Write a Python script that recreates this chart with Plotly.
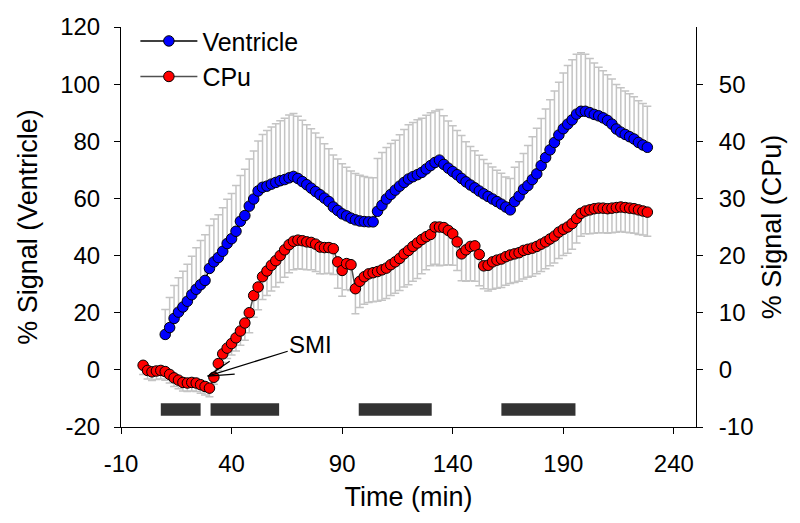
import plotly.graph_objects as go

# ---------------- data ----------------
vent_time = list(range(10, 230, 2))
vent_signal = [
    12.4, 14.8, 18.0, 20.2, 22.0, 24.0, 26.3, 28.2, 29.8, 31.3,
    35.5, 37.8, 39.3, 41.5, 44.2, 45.9, 48.5, 52.0, 54.0, 57.3,
    59.8, 62.6, 63.9, 64.3, 65.0, 65.6, 66.2, 66.6, 67.2, 67.7,
    67.0, 65.9, 64.8, 63.6, 62.4, 61.3, 60.1, 58.9, 57.0, 55.8,
    54.6, 53.9, 53.1, 52.5, 52.1, 51.9, 51.8, 51.8, 55.5, 57.6,
    59.8, 61.4, 62.9, 64.3, 65.6, 66.8, 67.6, 68.3, 69.1, 70.3,
    71.5, 72.6, 73.4, 71.9, 70.6, 69.4, 68.3, 67.0, 65.8, 64.7,
    63.7, 62.6, 61.6, 60.7, 59.8, 58.9, 58.0, 57.0, 56.0, 58.9,
    60.8, 63.2, 64.5, 66.6, 68.6, 71.5, 74.3, 77.0, 79.6, 82.2,
    84.4, 86.0, 87.5, 89.5, 90.5, 90.5, 90.0, 89.4, 88.9, 88.2,
    87.3, 86.0, 84.3, 83.2, 82.4, 81.6, 80.8, 79.6, 78.7, 77.9,
]
vent_err = [
    8.7, 10.5, 11.5, 12.0, 12.5, 13.0, 13.5, 14.5, 15.5, 16.0,
    15.0, 15.0, 15.0, 15.2, 15.5, 15.8, 16.0, 16.0, 16.2, 16.5,
    16.8, 17.5, 18.5, 19.5, 20.0, 20.5, 21.0, 21.5, 22.0, 22.0,
    21.8, 21.5, 21.0, 20.8, 20.5, 20.0, 19.0, 18.5, 18.2, 18.0,
    17.5, 17.0, 16.5, 16.2, 16.0, 15.8, 15.5, 15.4, 18.5, 18.5,
    18.0, 17.8, 17.5, 18.0, 18.5, 19.0, 19.0, 19.2, 19.0, 18.8,
    18.5, 18.0, 17.7, 17.0, 16.5, 16.0, 15.5, 15.0, 14.0, 13.5,
    13.0, 12.5, 12.0, 11.5, 11.2, 11.0, 10.8, 10.5, 11.0, 12.0,
    12.0, 12.5, 14.0, 15.0, 16.0, 16.5, 17.0, 17.5, 18.0, 18.5,
    19.5, 20.5, 21.0, 21.0, 20.5, 20.0, 19.0, 18.0, 17.0, 16.5,
    16.0, 15.8, 15.6, 15.5, 15.2, 15.0, 14.8, 14.6, 14.5, 14.4,
]

cpu_time = list(range(0, 230, 2))
cpu_signal = [
    0.8, -0.1, -0.35, -0.2, -0.1, -0.3, -0.8, -1.4, -1.8, -2.2,
    -2.3, -2.2, -2.3, -2.6, -2.9, -3.2, -1.3, 1.1, 2.8, 3.8,
    4.6, 5.6, 6.8, 8.2, 10.0, 13.0, 14.5, 16.3, 17.3, 18.3,
    19.1, 20.0, 21.0, 21.9, 22.5, 22.7, 22.6, 22.4, 22.3, 22.0,
    21.5, 21.4, 21.4, 21.2, 18.9, 17.4, 18.6, 18.4, 14.2, 15.5,
    16.3, 16.8, 17.0, 17.2, 17.5, 17.8, 18.4, 18.9, 19.5, 20.3,
    20.9, 21.6, 22.2, 22.8, 23.3, 23.7, 25.0, 25.0, 24.9, 24.4,
    23.8, 22.4, 20.3, 21.0, 21.6, 21.7, 20.2, 18.2, 18.3, 18.9,
    19.2, 19.4, 19.8, 20.1, 20.3, 20.5, 20.9, 21.1, 21.3, 21.6,
    22.0, 22.4, 22.9, 23.4, 24.1, 24.6, 25.0, 25.6, 26.5, 27.4,
    27.8, 28.0, 28.2, 28.3, 28.3, 28.2, 28.3, 28.4, 28.5, 28.4,
    28.3, 28.2, 28.0, 27.8, 27.6,
]
cpu_err = [
    1.6, 1.5, 1.5, 1.5, 1.5, 1.5, 1.5, 1.5, 1.5, 1.5,
    1.5, 1.5, 1.5, 1.5, 1.5, 1.5, 1.2, 1.2, 1.5, 1.8,
    2.0, 2.3, 2.5, 3.0, 3.5, 3.8, 4.0, 4.0, 4.3, 4.5,
    4.6, 4.7, 4.8, 4.9, 5.0, 5.0, 5.0, 4.9, 4.8, 4.8,
    4.7, 4.6, 4.5, 4.5, 4.6, 4.5, 4.6, 4.5, 4.4, 4.6,
    4.8, 5.0, 5.1, 5.2, 5.3, 5.3, 5.4, 5.5, 5.6, 5.8,
    6.0, 6.1, 6.2, 6.0, 5.8, 5.5, 6.5, 6.8, 6.6, 6.0,
    5.5, 5.0, 4.7, 5.5, 6.0, 6.2, 5.5, 4.0, 4.5, 4.8,
    4.9, 5.0, 5.0, 5.0, 5.0, 5.0, 5.0, 4.9, 4.9, 4.8,
    4.8, 4.7, 4.7, 4.7, 4.6, 4.6, 4.6, 4.5, 4.3, 4.0,
    4.0, 4.2, 4.3, 4.3, 4.3, 4.3, 4.3, 4.3, 4.3, 4.3,
    4.3, 4.3, 4.3, 4.2, 4.2,
]

block_start = [8, 30.5, 97.5, 162]
block_end = [26, 61.5, 130.5, 195.5]
block_low, block_high = -16.1, -11.7

x_ticks = [-10, 40, 90, 140, 190, 240]
x_tick_text = ["-10", "40", "90", "140", "190", "240"]
left_ticks = [-20, 0, 20, 40, 60, 80, 100, 120]
left_tick_text = ["-20", "0", "20", "40", "60", "80", "100", "120"]
right_ticks = [-10, 0, 10, 20, 30, 40, 50]
right_tick_text = ["-10", "0", "10", "20", "30", "40", "50"]

smi_time, smi_value = 29.2, -2.2

assert len(vent_time) == len(vent_signal) == len(vent_err)
assert len(cpu_time) == len(cpu_signal) == len(cpu_err)

FONT = "Liberation Sans, Arial, sans-serif"

fig = go.Figure()
fig.add_trace(go.Scatter(
    x=vent_time, y=vent_signal, name="Ventricle", mode="lines+markers",
    line=dict(color="black", width=1.5),
    marker=dict(color="#0000ff", size=10.5, line=dict(color="black", width=1)),
    error_y=dict(type="data", symmetric=False, array=vent_err,
                 arrayminus=[0] * len(vent_err), color="#c4c4c4",
                 thickness=1.5, width=4),
    yaxis="y",
))
fig.add_trace(go.Scatter(
    x=cpu_time, y=cpu_signal, name="CPu", mode="lines+markers",
    line=dict(color="#505050", width=1.5),
    marker=dict(color="#ff0000", size=10.5, line=dict(color="black", width=1)),
    error_y=dict(type="data", symmetric=False, array=[0] * len(cpu_err),
                 arrayminus=cpu_err, color="#c4c4c4",
                 thickness=1.5, width=4),
    yaxis="y2",
))

shapes = []
for s, e in zip(block_start, block_end):
    shapes.append(dict(type="rect", xref="x", yref="y", x0=s, x1=e,
                       y0=block_low, y1=block_high,
                       fillcolor="#333333", line=dict(width=0), layer="above"))
# open arrowhead arms for SMI arrow
for dx, dy in [(27, 2), (22, 15)]:
    shapes.append(dict(type="line", xref="x", yref="y",
                       xsizemode="pixel", ysizemode="pixel",
                       xanchor=smi_time, yanchor=smi_value,
                       x0=0, y0=0, x1=dx, y1=dy,
                       line=dict(color="black", width=1.2)))

axis_common = dict(showline=True, linecolor="black", linewidth=1,
                   ticks="outside", ticklen=6, tickwidth=1, tickcolor="black",
                   showgrid=False, zeroline=False,
                   tickfont=dict(family=FONT, size=24, color="black"))

fig.update_layout(
    width=800, height=523,
    margin=dict(l=113, r=112, t=19, b=104, autoexpand=False),
    paper_bgcolor="white", plot_bgcolor="white",
    font=dict(family=FONT, color="black"),
    xaxis=dict(range=[-10, 250], tickvals=x_ticks, ticktext=x_tick_text,
               ticklabelstandoff=9, **axis_common,
               title=dict(text="Time (min)", font=dict(size=27, family=FONT),
                          standoff=11)),
    yaxis=dict(range=[-20, 120], tickvals=left_ticks, ticktext=left_tick_text,
               ticklabelstandoff=9, **axis_common,
               title=dict(text="% Signal (Ventricle)",
                          font=dict(size=27, family=FONT), standoff=14)),
    yaxis2=dict(range=[-10, 60], tickvals=right_ticks,
                ticktext=right_tick_text, ticklabelstandoff=11,
                overlaying="y", side="right", **axis_common,
                title=dict(text="% Signal (CPu)",
                           font=dict(size=27, family=FONT), standoff=9)),
    legend=dict(x=0.025, y=1.022, xanchor="left", yanchor="top",
                bgcolor="rgba(0,0,0,0)", itemwidth=57,
                font=dict(family=FONT, size=25, color="black"),
                tracegroupgap=0),
    shapes=shapes,
    annotations=[dict(x=smi_time, y=smi_value, xref="x", yref="y",
                      text="SMI", showarrow=True, arrowhead=0,
                      arrowwidth=1.2, arrowcolor="black",
                      ax=103, ay=-32,
                      font=dict(family=FONT, size=24, color="black"))],
)

fig.write_html("out.html")
